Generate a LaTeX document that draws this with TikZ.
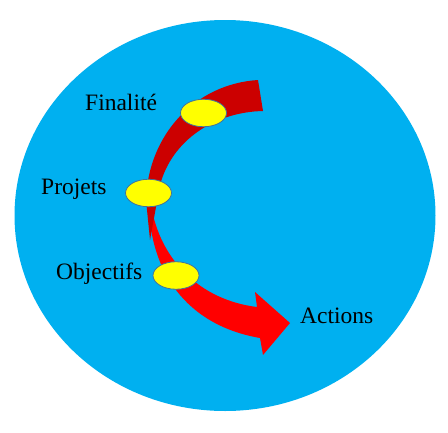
\documentclass[tikz,border=0pt]{standalone}
\usepackage{fontspec}
\setmainfont{Liberation Serif}
\definecolor{Sky}{HTML}{00B0F0}
\definecolor{DarkRed}{HTML}{CC0000}
\definecolor{BrightRed}{HTML}{FF0000}
\definecolor{Lemon}{HTML}{FFFF00}
\definecolor{Steel}{HTML}{41719C}
\usetikzlibrary{shapes.geometric}

\begin{document}
\begin{tikzpicture}[
    x=1pt, y=-1pt,
    disc/.style={ellipse, fill=Sky, inner sep=0pt, minimum width=421pt, minimum height=391pt},
    bubble/.style={ellipse, draw=Steel, line width=0.8pt, fill=Lemon, inner sep=0pt, minimum width=46pt, minimum height=27.5pt},
    label/.style={anchor=base west, inner sep=0pt, font=\rmfamily\fontsize{23.5}{28}\selectfont},
]
    \useasboundingbox (0,0) rectangle (448,432);

    \node[disc] (disc) at (225,215.5) {};

    % lower arrow towards Actions
    \coordinate (lowstart) at (149,205);
    \coordinate (shaftout) at (260,338);
    \coordinate (shaftin) at (257,307);
    \coordinate (tip) at (290,323);
    \fill[BrightRed] (lowstart) .. controls (150,270) and (185,325) .. (shaftout)
        -- (263,355) -- (tip) -- (255,292) -- (shaftin)
        .. controls (200,300) and (160,260) .. (151,205) -- cycle;

    % upper curved band
    \coordinate (topout) at (258,80);
    \coordinate (topin) at (263,111);
    \coordinate (uptip) at (150,240);
    \fill[DarkRed] (topout) -- (topin)
        .. controls (215,112) and (172,140) .. (160,185) -- (uptip)
        -- (146,200) .. controls (148,135) and (195,84) .. (topout) -- cycle;

    \node[bubble] (finalite) at (203.5,113) {};
    \node[bubble] (projets) at (148.5,193) {};
    \node[bubble] (objectifs) at (176,275.5) {};

    \node[label] (finalitetext) at (85,110) {Finalité};
    \node[label] (projetstext) at (41,194) {Projets};
    \node[label] (objectifstext) at (56,279) {Objectifs};
    \node[label] (actionstext) at (300,323) {Actions};
\end{tikzpicture}
\end{document}
